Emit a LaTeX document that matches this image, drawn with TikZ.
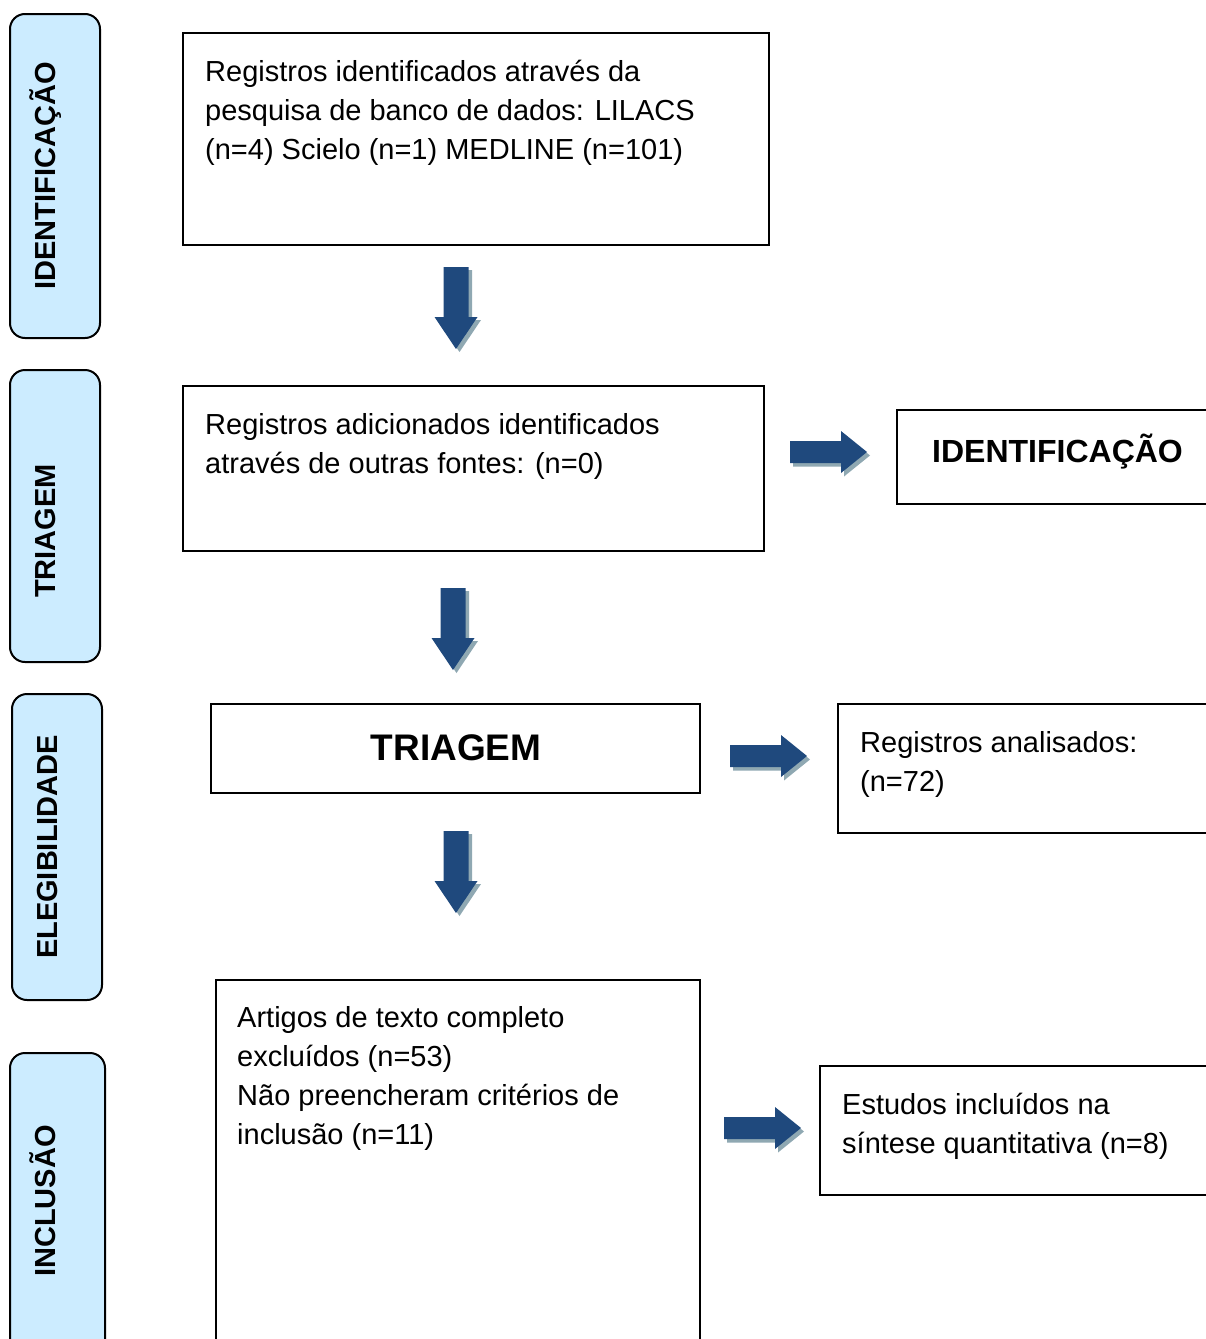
\documentclass[tikz,border=0pt]{standalone}
\usepackage{fontspec}
\setmainfont{Liberation Sans}
\begin{document}
\begin{tikzpicture}[x=1pt,y=-1pt,
  sidebox/.style={draw=black,line width=2pt,fill=sidefill,rounded corners=15pt},
  mainbox/.style={draw=black,line width=1.5pt,fill=white},
  sidelabel/.style={font=\fontsize{29}{35}\bfseries\selectfont,rotate=90,anchor=base,inner sep=0pt},
  bodytext/.style={font=\fontsize{29}{39}\selectfont,anchor=base west,align=left,inner sep=0pt},
  pics/blockdown/.style={code={
    \fill[arrowshadow] (-12.5+3.5,3) -- (12.5+3.5,3) -- (12.5+3.5,50+3) -- (21.5+3.5,50+3) -- (0+3.5,82+3) -- (-21.5+3.5,50+3) -- (-12.5+3.5,50+3) -- cycle;
    \fill[arrowblue] (-12.5,0) -- (12.5,0) -- (12.5,50) -- (21.5,50) -- (0,82) -- (-21.5,50) -- (-12.5,50) -- cycle;
  }},
  pics/blockright/.style={code={
    \fill[arrowshadow] (3,-11+3.5) -- (51+3,-11+3.5) -- (51+3,-21+3.5) -- (77+3,0+3.5) -- (51+3,21+3.5) -- (51+3,11+3.5) -- (3,11+3.5) -- cycle;
    \fill[arrowblue] (0,-11) -- (51,-11) -- (51,-21) -- (77,0) -- (51,21) -- (51,11) -- (0,11) -- cycle;
  }}
]
\definecolor{sidefill}{RGB}{204,236,255}
\definecolor{arrowblue}{RGB}{31,73,125}
\definecolor{arrowshadow}{RGB}{143,168,178}
\useasboundingbox (0,0) rectangle (1206,1339);
\clip (0,0) rectangle (1206,1339);

% side stage boxes
\draw[sidebox] (10,14) rectangle (100,338);
\node[sidelabel] (lid) at (55,176) {IDENTIFICAÇÃO};
\draw[sidebox] (10,370) rectangle (100,662);
\node[sidelabel] (ltr) at (55,531) {TRIAGEM};
\draw[sidebox] (12,694) rectangle (102,1000);
\node[sidelabel] (lel) at (57,847) {ELEGIBILIDADE};
\draw[sidebox] (10,1053) rectangle (105,1370);
\node[sidelabel] (lin) at (55,1201) {INCLUSÃO};

% main boxes (text nodes anchored at the baseline of their last line)
\draw[mainbox] (183,33) rectangle (769,245);
\node[bodytext] (ta) at (205,159) {Registros identificados através da\\pesquisa de banco de dados: LILACS\\(n=4) Scielo (n=1) MEDLINE (n=101)};

\draw[mainbox] (183,386) rectangle (764,551);
\node[bodytext] (tb) at (205,473) {Registros adicionados identificados\\através de outras fontes: (n=0)};

\draw[mainbox] (211,704) rectangle (700,793);
\node[font=\fontsize{37}{44}\bfseries\selectfont,anchor=base,inner sep=0pt] (tc) at (456,760) {TRIAGEM};

\draw[mainbox] (216,980) rectangle (700,1370);
\node[bodytext] (td) at (237,1144) {Artigos de texto completo\\excluídos (n=53)\\Não preencheram critérios de\\inclusão (n=11)};

% right boxes
\draw[mainbox] (897,410) rectangle (1215,504);
\node[font=\fontsize{32}{38}\bfseries\selectfont,anchor=base west,inner sep=0pt] (te) at (932,462) {IDENTIFICAÇÃO};

\draw[mainbox] (838,704) rectangle (1215,833);
\node[bodytext] (tf) at (860,791) {Registros analisados:\\(n=72)};

\draw[mainbox] (820,1066) rectangle (1215,1195);
\node[bodytext] (tg) at (842,1153) {Estudos incluídos na\\síntese quantitativa (n=8)};

% block arrows
\pic (d1) at (456,267) {blockdown};
\pic (d2) at (453,588) {blockdown};
\pic (d3) at (456,831) {blockdown};
\pic (r1) at (790,452) {blockright};
\pic (r2) at (730,756) {blockright};
\pic (r3) at (724,1128) {blockright};
\end{tikzpicture}
\end{document}
